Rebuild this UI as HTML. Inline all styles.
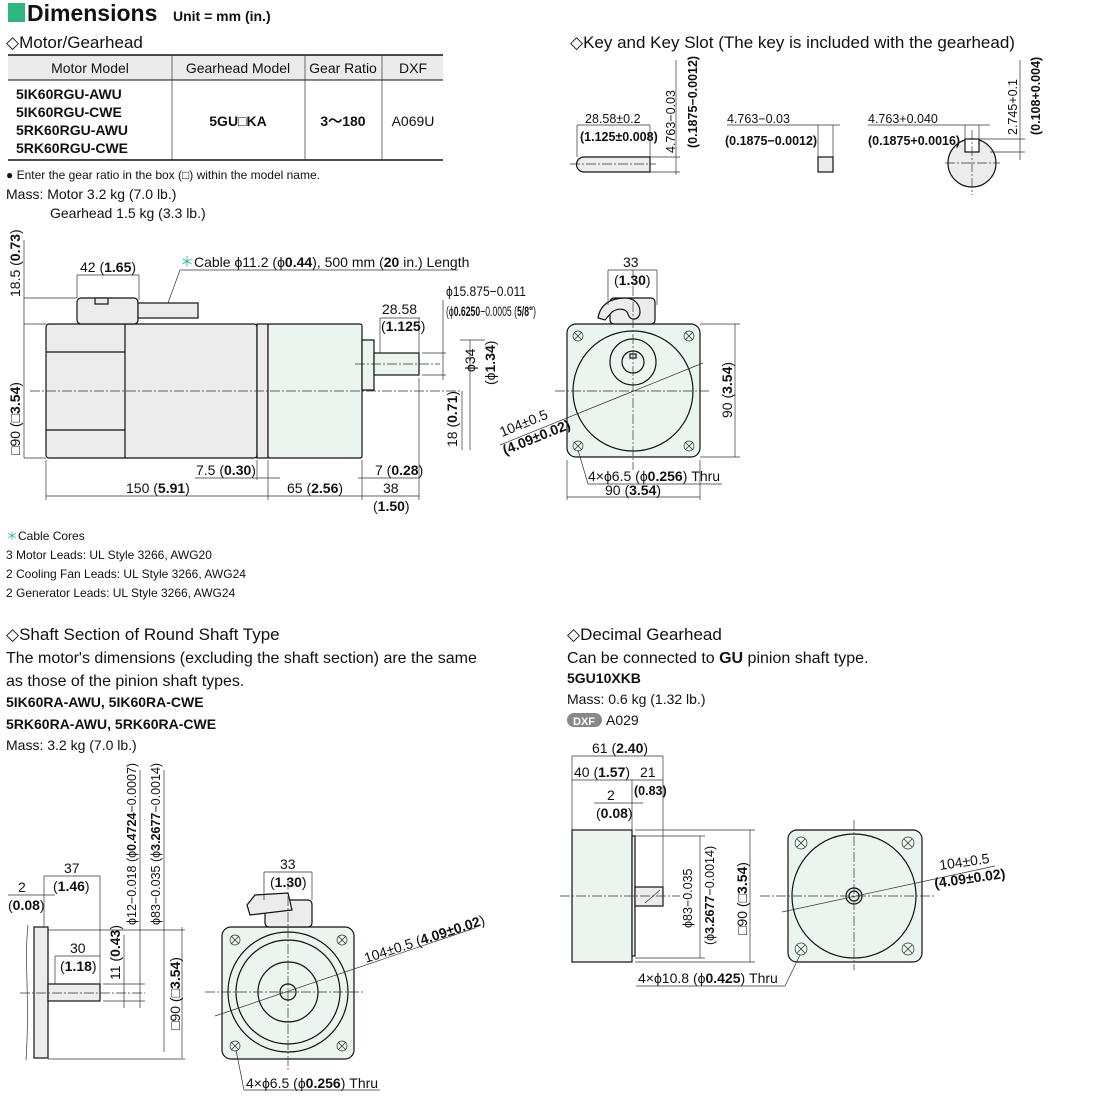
<!DOCTYPE html>
<html><head><meta charset="utf-8"><style>
html,body{margin:0;padding:0;background:#fff}
svg{display:block}
text{font-family:"Liberation Sans",sans-serif;fill:#111}
.b{font-weight:bold}
.h{font-size:17px}
.t{font-size:14px}
.s{font-size:12.5px}
.l{stroke:#111;stroke-width:1.2;fill:none}
.d{stroke:#333;stroke-width:0.7;fill:none}
.c{stroke:#333;stroke-width:0.7;fill:none;stroke-dasharray:10 2 2 2}
.g{fill:#ececec;stroke:#111;stroke-width:1.2}
.gn{fill:#eaf5ef;stroke:#111;stroke-width:1.2}
</style></head><body>
<svg width="1100" height="1100" viewBox="0 0 1100 1100" xmlns="http://www.w3.org/2000/svg">
<defs>
<g id="hx"><line x1="-4" y1="-4" x2="4" y2="4" stroke="#333" stroke-width="0.8"/><line x1="-4" y1="4" x2="4" y2="-4" stroke="#333" stroke-width="0.8"/></g>
</defs>
<!-- title -->
<rect x="8" y="3" width="17" height="19" fill="#2fb57d"/>
<text x="27" y="21" class="b" font-size="23">Dimensions</text>
<text x="173" y="21" class="b" font-size="14">Unit = mm (in.)</text>
<text x="6" y="48" class="h">◇Motor/Gearhead</text>
<!-- table -->
<rect x="8" y="55" width="435" height="25" fill="#ebebeb"/>
<line x1="8" y1="55" x2="443" y2="55" stroke="#111" stroke-width="1.5"/>
<line x1="8" y1="80" x2="443" y2="80" stroke="#111" stroke-width="1"/>
<line x1="8" y1="160" x2="443" y2="160" stroke="#111" stroke-width="1.5"/>
<line x1="172" y1="55" x2="172" y2="160" class="d"/><line x1="305" y1="55" x2="305" y2="160" class="d"/><line x1="382" y1="55" x2="382" y2="160" class="d"/>
<text x="90" y="73" class="t" text-anchor="middle">Motor Model</text>
<text x="238" y="73" class="t" text-anchor="middle">Gearhead Model</text>
<text x="343" y="73" class="t" text-anchor="middle">Gear Ratio</text>
<text x="413" y="73" class="t" text-anchor="middle">DXF</text>
<text x="16" y="99" class="t b">5IK60RGU-AWU</text>
<text x="16" y="117" class="t b">5IK60RGU-CWE</text>
<text x="16" y="135" class="t b">5RK60RGU-AWU</text>
<text x="16" y="153" class="t b">5RK60RGU-CWE</text>
<text x="238" y="126" class="t b" text-anchor="middle">5GU□KA</text>
<text x="343" y="126" class="t b" text-anchor="middle">3～180</text>
<text x="413" y="126" class="t" text-anchor="middle">A069U</text>
<text x="6" y="179" font-size="12">● Enter the gear ratio in the box (□) within the model name.</text>
<text x="6" y="199" class="t">Mass: Motor 3.2 kg (7.0 lb.)</text>
<text x="50" y="218" class="t">Gearhead 1.5 kg (3.3 lb.)</text>

<!-- key section -->
<text x="570" y="48" class="h">◇Key and Key Slot (The key is included with the gearhead)</text>
<path d="M584,157 H650 V172 H584 A7.5,7.5 0 0 1 584,157Z" class="g"/>
<line x1="570" y1="164" x2="656" y2="164" class="c"/>
<line x1="577" y1="125" x2="650" y2="125" class="d"/>
<line x1="577" y1="125" x2="577" y2="157" class="d"/><line x1="650" y1="125" x2="650" y2="157" class="d"/>
<text x="585" y="123" class="s">28.58±0.2</text>
<text x="580" y="141" class="s b">(1.125±0.008)</text>
<line x1="650" y1="157" x2="680" y2="157" class="d"/><line x1="650" y1="172" x2="680" y2="172" class="d"/>
<line x1="676" y1="60" x2="676" y2="175" class="d"/>
<text transform="translate(675,153) rotate(-90)" class="s">4.763−0.03</text>
<text transform="translate(697,148) rotate(-90)" class="s b">(0.1875−0.0012)</text>
<rect x="818" y="157" width="15" height="15" class="g"/>
<line x1="727" y1="125" x2="840" y2="125" class="d"/>
<line x1="818" y1="125" x2="818" y2="157" class="d"/><line x1="833" y1="125" x2="833" y2="157" class="d"/>
<text x="727" y="123" class="s">4.763−0.03</text>
<text x="725" y="145" class="s b">(0.1875−0.0012)</text>
<circle cx="972" cy="163" r="24" class="g"/>
<rect x="965" y="139" width="14" height="13" fill="#fff" stroke="#111" stroke-width="1.2"/>
<line x1="945" y1="163" x2="1000" y2="163" class="c"/><line x1="972" y1="130" x2="972" y2="195" class="c"/>
<line x1="868" y1="125" x2="990" y2="125" class="d"/>
<line x1="965" y1="125" x2="965" y2="140" class="d"/><line x1="979" y1="125" x2="979" y2="140" class="d"/>
<text x="868" y="123" class="s">4.763+0.040</text>
<text x="868" y="145" class="s b">(0.1875+0.0016)</text>
<line x1="979" y1="139" x2="1025" y2="139" class="d"/><line x1="990" y1="152" x2="1025" y2="152" class="d"/>
<line x1="1020" y1="60" x2="1020" y2="160" class="d"/>
<text transform="translate(1017,135) rotate(-90)" class="s">2.745+0.1</text>
<text transform="translate(1040,135) rotate(-90)" class="s b">(0.108+0.004)</text>

<!-- main side view -->
<rect x="46" y="324" width="211" height="134" rx="3" class="g"/>
<line x1="125" y1="324" x2="125" y2="458" class="l"/>
<line x1="46" y1="352" x2="125" y2="352" class="l"/><line x1="46" y1="430" x2="125" y2="430" class="l"/>
<rect x="257" y="324" width="11" height="134" class="g"/>
<rect x="268" y="324" width="94" height="134" rx="2" class="gn"/>
<rect x="362" y="340" width="12" height="50" class="gn"/>
<rect x="374" y="353" width="45" height="22" class="gn"/>
<rect x="77" y="298" width="61" height="26" rx="4" class="g"/>
<rect x="95" y="298" width="13" height="6" class="g"/>
<rect x="138" y="303" width="60" height="15" class="g"/>
<line x1="30" y1="391" x2="460" y2="391" class="c"/>
<line x1="355" y1="364" x2="440" y2="364" class="c"/>
<!-- dims -->
<line x1="24" y1="298" x2="77" y2="298" class="d"/><line x1="24" y1="324" x2="46" y2="324" class="d"/><line x1="24" y1="458" x2="46" y2="458" class="d"/>
<line x1="24" y1="240" x2="24" y2="458" class="d"/>
<text transform="translate(20,297) rotate(-90)" class="t">18.5 (<tspan class="b">0.73</tspan>)</text>
<text transform="translate(20,455) rotate(-90)" class="t">□90 (<tspan class="b">□3.54</tspan>)</text>
<line x1="77" y1="275" x2="139" y2="275" class="d"/><line x1="77" y1="275" x2="77" y2="298" class="d"/><line x1="139" y1="275" x2="139" y2="300" class="d"/>
<text x="80" y="272" class="t">42 (<tspan class="b">1.65</tspan>)</text>
<text x="180" y="267" class="t"><tspan fill="#2fb5a5">＊</tspan>Cable ϕ11.2 (ϕ<tspan class="b">0.44</tspan>), 500 mm (<tspan class="b">20</tspan> in.) Length</text>
<line x1="180" y1="270" x2="458" y2="270" class="d"/><line x1="180" y1="270" x2="168" y2="303" class="d"/>
<line x1="46" y1="460" x2="46" y2="500" class="d"/><line x1="268" y1="460" x2="268" y2="500" class="d"/><line x1="257" y1="460" x2="257" y2="480" class="d"/>
<line x1="362" y1="460" x2="362" y2="500" class="d"/><line x1="419" y1="378" x2="419" y2="500" class="d"/>
<line x1="195" y1="478" x2="280" y2="478" class="d"/>
<text x="196" y="475" class="t">7.5 (<tspan class="b">0.30</tspan>)</text>
<line x1="46" y1="496" x2="419" y2="496" class="d"/>
<text x="126" y="493" class="t">150 (<tspan class="b">5.91</tspan>)</text>
<text x="287" y="493" class="t">65 (<tspan class="b">2.56</tspan>)</text>
<line x1="358" y1="478" x2="419" y2="478" class="d"/>
<text x="375" y="475" class="t">7 (<tspan class="b">0.28</tspan>)</text>
<text x="383" y="493" class="t">38</text>
<text x="373" y="511" class="t">(<tspan class="b">1.50</tspan>)</text>
<line x1="380" y1="318" x2="420" y2="318" class="d"/><line x1="380" y1="318" x2="380" y2="353" class="d"/><line x1="419" y1="318" x2="419" y2="353" class="d"/>
<text x="382" y="314" class="t">28.58</text>
<text x="381" y="331" class="t">(<tspan class="b">1.125</tspan>)</text>
<text x="446" y="296" class="t" textLength="80" lengthAdjust="spacingAndGlyphs">ϕ15.875−0.011</text>
<text x="446" y="316" class="t" textLength="90" lengthAdjust="spacingAndGlyphs">(ϕ<tspan class="b">0.6250</tspan>−0.0005 (<tspan class="b">5/8"</tspan>)</text>
<line x1="443" y1="300" x2="443" y2="380" class="d"/>
<line x1="422" y1="353" x2="446" y2="353" class="d"/><line x1="422" y1="375" x2="446" y2="375" class="d"/>
<line x1="460" y1="340" x2="485" y2="340" class="d"/><line x1="470" y1="340" x2="470" y2="450" class="d"/>
<text transform="translate(475,372) rotate(-90)" class="t">ϕ34</text>
<text transform="translate(495,385) rotate(-90)" class="t">(ϕ<tspan class="b">1.34</tspan>)</text>
<text transform="translate(457,447) rotate(-90)" class="t">18 (<tspan class="b">0.71</tspan>)</text>
<line x1="462" y1="391" x2="462" y2="450" class="d"/>

<!-- main front view -->
<rect x="567" y="324" width="133" height="133" rx="9" class="gn"/>
<circle cx="633" cy="391" r="60" class="l"/>
<circle cx="633" cy="362" r="23" class="l"/>
<circle cx="633" cy="362" r="11" class="l"/>
<rect x="630" y="354" width="6" height="4" class="l"/>
<g class="d"><circle cx="578" cy="336" r="5"/><circle cx="689" cy="336" r="5"/><circle cx="578" cy="446" r="5"/><circle cx="689" cy="446" r="5"/></g>
<use href="#hx" x="578" y="336"/><use href="#hx" x="689" y="336"/><use href="#hx" x="578" y="446"/><use href="#hx" x="689" y="446"/>
<rect x="610" y="298" width="45" height="26" rx="4" class="g"/>
<path d="M598,318 C600,305 610,298 625,298 C635,298 640,305 640,312 C640,320 630,322 628,314 C626,308 618,308 612,312 L605,320Z" class="g"/>
<line x1="633" y1="270" x2="633" y2="470" class="c"/><line x1="555" y1="391" x2="710" y2="391" class="c"/>
<line x1="608" y1="270" x2="608" y2="305" class="d"/><line x1="657" y1="270" x2="657" y2="305" class="d"/><line x1="608" y1="270" x2="657" y2="270" class="d"/>
<text x="623" y="267" class="t">33</text>
<text x="614" y="285" class="t">(<tspan class="b">1.30</tspan>)</text>
<line x1="700" y1="324" x2="740" y2="324" class="d"/><line x1="700" y1="457" x2="740" y2="457" class="d"/><line x1="735" y1="324" x2="735" y2="457" class="d"/>
<text transform="translate(732,418) rotate(-90)" class="t">90 (<tspan class="b">3.54</tspan>)</text>
<line x1="567" y1="460" x2="567" y2="500" class="d"/><line x1="700" y1="460" x2="700" y2="500" class="d"/><line x1="567" y1="497" x2="700" y2="497" class="d"/>
<text x="605" y="495" class="t">90 (<tspan class="b">3.54</tspan>)</text>
<text x="588" y="481" class="t">4×ϕ6.5 (ϕ<tspan class="b">0.256</tspan>) Thru</text>
<line x1="588" y1="484" x2="722" y2="484" class="d"/><line x1="588" y1="484" x2="578" y2="450" class="d"/>
<line x1="500" y1="445" x2="703" y2="363" class="d"/>
<text transform="translate(502,437) rotate(-22)" class="t">104±0.5</text>
<text transform="translate(505,455) rotate(-22)" class="t b">(4.09±0.02)</text>

<text x="6" y="540" font-size="12"><tspan fill="#2fb5a5">＊</tspan>Cable Cores</text>
<text x="6" y="559" font-size="12">3 Motor Leads: UL Style 3266, AWG20</text>
<text x="6" y="578" font-size="12">2 Cooling Fan Leads: UL Style 3266, AWG24</text>
<text x="6" y="597" font-size="12">2 Generator Leads: UL Style 3266, AWG24</text>

<!-- round shaft section -->
<text x="6" y="640" class="h">◇Shaft Section of Round Shaft Type</text>
<text x="6" y="663" font-size="16">The motor's dimensions (excluding the shaft section) are the same</text>
<text x="6" y="686" font-size="16">as those of the pinion shaft types.</text>
<text x="6" y="707" class="t b">5IK60RA-AWU, 5IK60RA-CWE</text>
<text x="6" y="729" class="t b">5RK60RA-AWU, 5RK60RA-CWE</text>
<text x="6" y="750" class="t">Mass: 3.2 kg (7.0 lb.)</text>
<rect x="34" y="927" width="14" height="131" class="g"/>
<rect x="48" y="984" width="52" height="17" class="g"/>
<path d="M28,925 C24,960 30,1000 26,1060" class="d"/>
<line x1="20" y1="993" x2="145" y2="993" class="c"/>
<line x1="48" y1="930" x2="185" y2="930" class="d"/><line x1="48" y1="1059" x2="185" y2="1059" class="d"/>
<line x1="8" y1="895" x2="55" y2="895" class="d"/>
<text x="18" y="892" class="t">2</text><text x="8" y="910" class="t">(<tspan class="b">0.08</tspan>)</text>
<line x1="44" y1="876" x2="100" y2="876" class="d"/><line x1="44" y1="876" x2="44" y2="927" class="d"/><line x1="100" y1="876" x2="100" y2="984" class="d"/>
<text x="64" y="873" class="t">37</text><text x="53" y="891" class="t">(<tspan class="b">1.46</tspan>)</text>
<line x1="55" y1="956" x2="100" y2="956" class="d"/><line x1="55" y1="956" x2="55" y2="984" class="d"/>
<text x="70" y="953" class="t">30</text><text x="60" y="971" class="t">(<tspan class="b">1.18</tspan>)</text>
<line x1="103" y1="984" x2="145" y2="984" class="d"/><line x1="103" y1="1001" x2="145" y2="1001" class="d"/>
<line x1="124" y1="935" x2="124" y2="1008" class="d"/>
<text transform="translate(120,980) rotate(-90)" class="t">11 (<tspan class="b">0.43</tspan>)</text>
<line x1="140" y1="770" x2="140" y2="1008" class="d"/><line x1="164" y1="770" x2="164" y2="1052" class="d"/><line x1="182" y1="927" x2="182" y2="1058" class="d"/>
<text transform="translate(136,925) rotate(-90)" class="s">ϕ12−0.018 (ϕ<tspan class="b">0.4724</tspan>−0.0007)</text>
<text transform="translate(160,925) rotate(-90)" class="s">ϕ83−0.035 (ϕ<tspan class="b">3.2677</tspan>−0.0014)</text>
<text transform="translate(180,1030) rotate(-90)" class="t">□90 (<tspan class="b">□3.54</tspan>)</text>
<rect x="222" y="927" width="132" height="132" rx="9" class="gn"/>
<circle cx="288" cy="992" r="60" class="l"/><circle cx="288" cy="992" r="52" class="l"/>
<circle cx="288" cy="992" r="30" class="l"/><circle cx="288" cy="992" r="8" class="l"/>
<g class="d"><circle cx="235" cy="940" r="5"/><circle cx="342" cy="940" r="5"/><circle cx="235" cy="1046" r="5"/><circle cx="342" cy="1046" r="5"/></g>
<use href="#hx" x="235" y="940"/><use href="#hx" x="342" y="940"/><use href="#hx" x="235" y="1046"/><use href="#hx" x="342" y="1046"/>
<rect x="265" y="900" width="47" height="27" rx="4" class="g"/>
<path d="M247,905 L255,895 L288,893 L292,910 L250,915Z" class="g"/>
<line x1="288" y1="880" x2="288" y2="1070" class="c"/><line x1="205" y1="992" x2="365" y2="992" class="c"/>
<line x1="264" y1="872" x2="312" y2="872" class="d"/><line x1="264" y1="872" x2="264" y2="900" class="d"/><line x1="312" y1="872" x2="312" y2="900" class="d"/>
<text x="280" y="869" class="t">33</text><text x="270" y="887" class="t">(<tspan class="b">1.30</tspan>)</text>
<line x1="215" y1="1016" x2="475" y2="928" class="d"/>
<text transform="translate(366,963) rotate(-18)" class="t">104±0.5 (<tspan class="b">4.09±0.02</tspan>)</text>
<text x="246" y="1088" class="t">4×ϕ6.5 (ϕ<tspan class="b">0.256</tspan>) Thru</text>
<line x1="244" y1="1090" x2="380" y2="1090" class="d"/><line x1="244" y1="1090" x2="236" y2="1050" class="d"/>

<!-- decimal gearhead -->
<text x="567" y="640" class="h">◇Decimal Gearhead</text>
<text x="567" y="663" font-size="16">Can be connected to <tspan class="b">GU</tspan> pinion shaft type.</text>
<text x="567" y="683" class="t b">5GU10XKB</text>
<text x="567" y="704" class="t">Mass: 0.6 kg (1.32 lb.)</text>
<rect x="567" y="713" width="35" height="14" rx="7" fill="#888"/>
<text x="584" y="725" font-size="11" class="b" text-anchor="middle" style="fill:#fff">DXF</text>
<text x="606" y="725" class="t">A029</text>
<rect x="572" y="830" width="60" height="132" class="gn"/>
<rect x="632" y="836" width="3" height="120" class="gn"/>
<rect x="635" y="887" width="28" height="19" class="g"/>
<line x1="645" y1="903" x2="660" y2="890" class="d"/>
<line x1="560" y1="896" x2="680" y2="896" class="c"/>
<line x1="572" y1="756" x2="663" y2="756" class="d"/><line x1="572" y1="756" x2="572" y2="830" class="d"/><line x1="663" y1="756" x2="663" y2="887" class="d"/>
<text x="592" y="753" class="t">61 (<tspan class="b">2.40</tspan>)</text>
<line x1="572" y1="780" x2="663" y2="780" class="d"/><line x1="632" y1="780" x2="632" y2="830" class="d"/>
<text x="574" y="777" class="t">40 (<tspan class="b">1.57</tspan>)</text><text x="640" y="777" class="t">21</text>
<text x="634" y="795" class="s b">(0.83)</text>
<line x1="594" y1="803" x2="643" y2="803" class="d"/>
<text x="607" y="800" class="t">2</text><text x="596" y="818" class="t">(<tspan class="b">0.08</tspan>)</text>
<line x1="635" y1="836" x2="705" y2="836" class="d"/><line x1="635" y1="958" x2="705" y2="958" class="d"/>
<line x1="700" y1="836" x2="700" y2="958" class="d"/>
<line x1="635" y1="830" x2="755" y2="830" class="d"/><line x1="635" y1="962" x2="755" y2="962" class="d"/><line x1="750" y1="830" x2="750" y2="962" class="d"/>
<text transform="translate(692,928) rotate(-90)" class="s">ϕ83−0.035</text>
<text transform="translate(714,945) rotate(-90)" class="s">(ϕ<tspan class="b">3.2677</tspan>−0.0014)</text>
<text transform="translate(747,935) rotate(-90)" class="t">□90 (<tspan class="b">□3.54</tspan>)</text>
<rect x="788" y="830" width="134" height="132" rx="9" class="gn"/>
<circle cx="854" cy="896" r="62" class="l"/><circle cx="854" cy="896" r="8" class="l"/><circle cx="854" cy="896" r="5" class="l"/>
<g class="d"><circle cx="801" cy="843" r="6"/><circle cx="908" cy="843" r="6"/><circle cx="801" cy="949" r="6"/><circle cx="908" cy="949" r="6"/></g>
<use href="#hx" x="801" y="843"/><use href="#hx" x="908" y="843"/><use href="#hx" x="801" y="949"/><use href="#hx" x="908" y="949"/>
<line x1="854" y1="820" x2="854" y2="970" class="c"/><line x1="760" y1="896" x2="935" y2="896" class="c"/>
<line x1="782" y1="912" x2="995" y2="866" class="d"/>
<text transform="translate(940,870) rotate(-8)" class="t">104±0.5</text>
<text transform="translate(935,888) rotate(-8)" class="t b">(4.09±0.02)</text>
<text x="638" y="983" class="t">4×ϕ10.8 (ϕ<tspan class="b">0.425</tspan>) Thru</text>
<line x1="636" y1="986" x2="785" y2="986" class="d"/><line x1="785" y1="986" x2="800" y2="955" class="d"/>
</svg>
</body></html>
